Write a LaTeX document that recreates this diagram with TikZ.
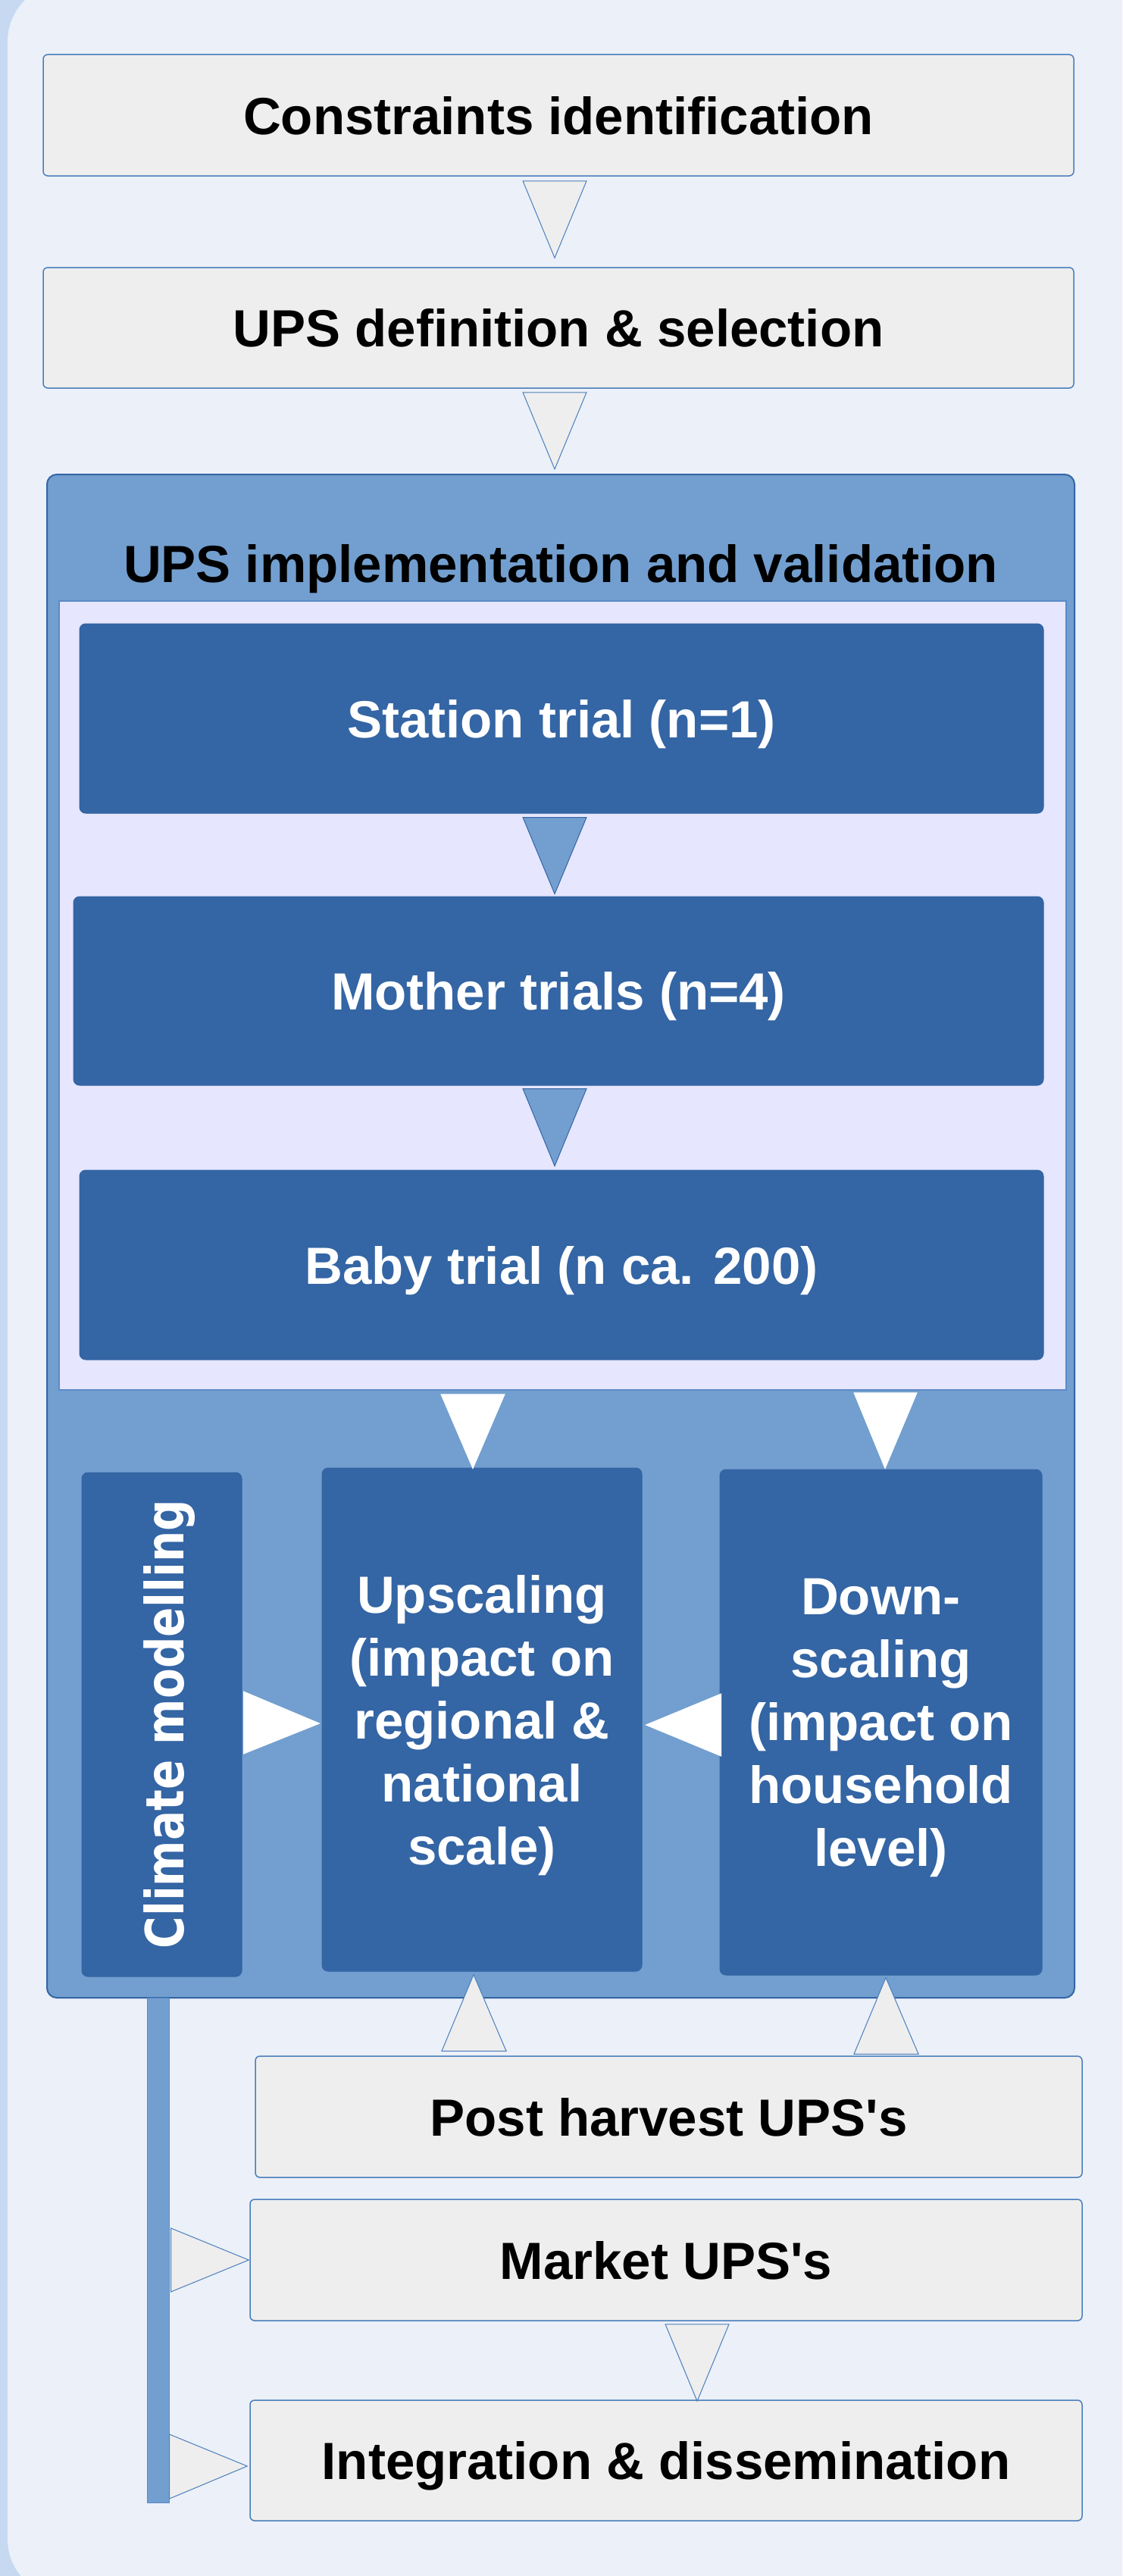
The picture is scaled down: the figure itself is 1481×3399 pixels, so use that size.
\documentclass[tikz,border=0pt]{standalone}
\usepackage{fontspec}
\setmainfont{Liberation Sans}
\newfontfamily\lsans{Liberation Sans}
\newfontfamily\dejavufont{DejaVu Sans}
\usetikzlibrary{calc}
\definecolor{bgstrip}{HTML}{C6D9F1}
\definecolor{bgmain}{HTML}{EBF0F9}
\definecolor{grayfill}{HTML}{EEEEEE}
\definecolor{grayline}{HTML}{4A7EBB}
\definecolor{midblue}{HTML}{729FCF}
\definecolor{darkblue}{HTML}{3465A4}
\definecolor{lavender}{HTML}{E6E6FF}
\definecolor{panelline}{HTML}{5B8AC8}
\newcommand\diagfont{\lsans\bfseries\fontsize{69}{83}\selectfont}
\begin{document}
\begin{tikzpicture}[x=1pt,y=-1pt,
  graybox/.style={draw=grayline, line width=1.5pt, fill=grayfill, rounded corners=6pt,
    inner sep=0pt, text depth=0pt, font=\diagfont, text=black},
  darkbox/.style={draw=darkblue, line width=1pt, fill=darkblue, rounded corners=8pt,
    inner sep=0pt, text depth=0pt, font=\diagfont, text=white, align=center},
  container/.style={draw=darkblue, line width=2pt, fill=midblue, rounded corners=13pt, inner sep=0pt},
  panel/.style={draw=panelline, line width=1.5pt, fill=lavender, inner sep=0pt},
  barstyle/.style={draw=panelline, line width=1pt, fill=midblue, inner sep=0pt},
  grayarrow/.style={draw=grayline, line width=1pt, fill=grayfill, line join=miter},
  bluearrow/.style={draw=darkblue, line width=1pt, fill=midblue},
  whitearrow/.style={draw=white, line width=1pt, fill=white}
]
\useasboundingbox (0,0) rectangle (1481,3399);
\fill[bgstrip] (0,0) rectangle (1481,3399);
\begin{scope}
  \clip (0,0) rectangle (1481,3399);
  \fill[bgmain, rounded corners=77pt] (10,-22) rectangle (1600,3427);
\end{scope}

% top boxes
\node[graybox, minimum width=1360pt, minimum height=160pt] (c1) at (737,152) {Constraints identification};
\node[graybox, minimum width=1360pt, minimum height=159pt] (c2) at (737,432.5) {UPS definition \& selection};

% container
\node[container, minimum width=1356pt, minimum height=2010pt] (impl) at (740,1631) {};
\node[font=\diagfont, anchor=base, inner sep=0pt] (title) at (740,768) {UPS implementation and validation};
\node[panel, minimum width=1329pt, minimum height=1041pt] (panel) at (742.5,1313.5) {};

\node[darkbox, minimum width=1272pt, minimum height=250pt] (station) at (741,948) {Station trial (n=1)};
\node[darkbox, minimum width=1280pt, minimum height=249pt] (mother) at (737,1307.5) {Mother trials (n=4)};
\node[darkbox, minimum width=1272pt, minimum height=250pt] (baby) at (741,1669) {Baby trial (n ca. 200)};

\node[darkbox, minimum width=211pt, minimum height=665pt] (climate) at (213.5,2275.5) {};
\node[rotate=90, text=white, inner sep=0pt, text depth=0pt,
      font=\dejavufont\bfseries\fontsize{58}{60}\selectfont] (climtext) at (216.5,2275)
      {\scalebox{1}[1.2]{Climate modelling}};
\node[darkbox, minimum width=422pt, minimum height=664pt] (up) at (636,2269)
  {Upscaling\\(impact on\\regional \&\\national\\scale)};
\node[darkbox, minimum width=425pt, minimum height=667pt] (down) at (1162.5,2272.5)
  {Down-\\scaling\\(impact on\\household\\level)};

% bar
\node[barstyle, minimum width=29pt, minimum height=666pt] (bar) at (208.5,2969) {};

% bottom boxes
\node[graybox, minimum width=1091pt, minimum height=160pt] (post) at (882.5,2793) {Post harvest UPS's};
\node[graybox, minimum width=1098pt, minimum height=160pt] (market) at (879,2982) {Market UPS's};
\node[graybox, minimum width=1098pt, minimum height=159pt] (integ) at (879,3246.5) {Integration \& dissemination};

% arrows (triangles)
\draw[grayarrow] ($(c1.south)+(-47,6)$) -- ($(c1.south)+(37,6)$) -- ($(c2.north)+(-5,-12)$) -- cycle;
\draw[grayarrow] ($(c2.south)+(-47,5)$) -- ($(c2.south)+(37,5)$) -- ($(impl.north)+(-8,-6)$) -- cycle;
\draw[bluearrow] ($(station.south)+(-51,5)$) -- ($(station.south)+(33,5)$) -- ($(mother.north)+(-5,-3)$) -- cycle;
\draw[bluearrow] ($(mother.south)+(-47,4)$) -- ($(mother.south)+(37,4)$) -- ($(baby.north)+(-9,-5)$) -- cycle;
\draw[whitearrow] ($(up.north |- panel.south)+(-54,5)$) -- ($(up.north |- panel.south)+(30,5)$) -- ($(up.north)+(-12,1)$) -- cycle;
\draw[whitearrow] ($(down.north |- panel.south)+(-35.5,3)$) -- ($(down.north |- panel.south)+(47.5,3)$) -- ($(down.north)+(5.5,-1)$) -- cycle;
\draw[whitearrow] ($(climate.east)+(2,-43.5)$) -- ($(climate.east)+(2,38.5)$) -- ($(up.west)+(-3,5)$) -- cycle;
\draw[whitearrow] ($(down.west)+(2,-37.5)$) -- ($(down.west)+(2,44.5)$) -- ($(up.east)+(5,7)$) -- cycle;
\draw[grayarrow] ($(up.south |- post.north)+(-53,-6)$) -- ($(up.south |- post.north)+(32,-6)$) -- ($(up.south)+(-11,4)$) -- cycle;
\draw[grayarrow] ($(down.south |- post.north)+(-35.5,-2)$) -- ($(down.south |- post.north)+(49.5,-2)$) -- ($(down.south)+(6.5,3)$) -- cycle;
\draw[grayarrow] ($(market.south)+(-1,4)$) -- ($(market.south)+(83,4)$) -- ($(integ.north)+(41,2)$) -- cycle;
\draw[grayarrow] ($(bar.east |- market.west)+(2,-42)$) -- ($(bar.east |- market.west)+(2,42)$) -- ($(market.west)+(-1,0)$) -- cycle;
\draw[grayarrow] ($(bar.east |- integ.west)+(0,-34.5)$) -- ($(bar.east |- integ.west)+(0,50.5)$) -- ($(integ.west)+(-3,7.5)$) -- cycle;
\end{tikzpicture}
\end{document}
